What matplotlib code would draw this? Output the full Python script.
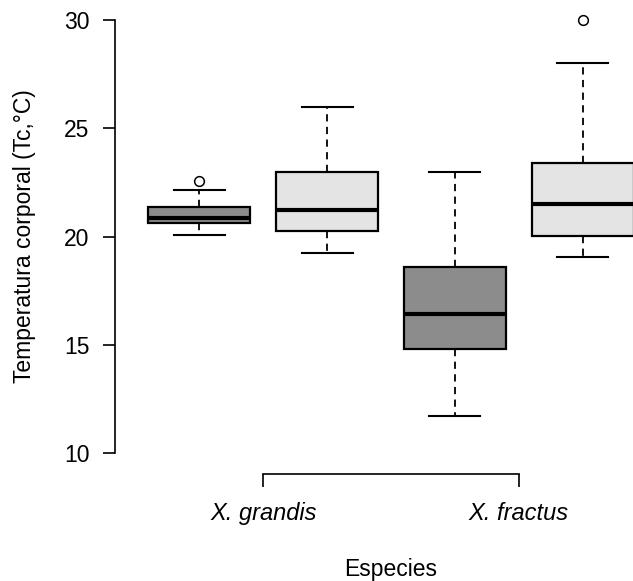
import matplotlib
matplotlib.use("Agg")
import matplotlib.pyplot as plt

plt.rcParams['font.family'] = ['Liberation Sans', 'DejaVu Sans']

# box statistics (order: grandis dark, grandis light, fractus dark, fractus light)
positions = [1, 2, 3, 4]
whisker_low = [20.07, 19.24, 11.7, 19.05]
q1 = [20.62, 20.25, 14.8, 20.02]
medians = [20.85, 21.22, 16.42, 21.52]
q3 = [21.36, 22.98, 18.6, 23.4]
whisker_high = [22.15, 25.98, 22.98, 28.0]
outliers = [[22.56], [], [], [30.0]]
fills = ['#8c8c8c', '#e4e4e4', '#8c8c8c', '#e4e4e4']

species = ['X. grandis', 'X. fractus']
species_pos = [1.5, 3.5]
yticks = [10, 15, 20, 25, 30]

stats = []
for i in range(len(positions)):
    stats.append({'whislo': whisker_low[i], 'q1': q1[i], 'med': medians[i],
                  'q3': q3[i], 'whishi': whisker_high[i], 'fliers': outliers[i]})

fig = plt.figure(figsize=(6.33, 5.81), dpi=100)
ax = fig.add_axes([0.1817, 0.2017, 0.872, 0.7824])

bp = ax.bxp(stats, positions=positions, widths=0.8, patch_artist=True,
            boxprops=dict(edgecolor='black', linewidth=1.6),
            medianprops=dict(color='black', linewidth=3),
            whiskerprops=dict(color='black', linewidth=1.3, linestyle=(0, (4, 3))),
            capprops=dict(color='black', linewidth=1.5),
            flierprops=dict(marker='o', markersize=7, markerfacecolor='white',
                            markeredgecolor='black', markeredgewidth=1.1),
            capwidths=0.4)
for patch, c in zip(bp['boxes'], fills):
    patch.set_facecolor(c)

ax.set_xlim(0.34, 4.66)
ax.set_ylim(9.5, 30.5)

ax.spines['top'].set_visible(False)
ax.spines['right'].set_visible(False)
ax.spines['left'].set_bounds(10, 30)
ax.spines['left'].set_linewidth(1.2)
ax.spines['bottom'].set_bounds(1.5, 3.5)
ax.spines['bottom'].set_position(('outward', 7))
ax.spines['bottom'].set_linewidth(1.2)

ax.set_yticks(yticks)
ax.set_xticks(species_pos)
ax.set_xticklabels(species, fontstyle='italic', fontsize=17)
ax.tick_params(axis='y', labelsize=16.5, length=8.5, width=1.2, pad=10)
ax.tick_params(axis='x', length=9.5, width=1.2, pad=11)

ax.set_ylabel('Temperatura corporal (Tc,°C)', fontsize=16.5, labelpad=20)
ax.set_xlabel('Especies', fontsize=16.5, labelpad=24)

fig.savefig('out.png', dpi=100)
